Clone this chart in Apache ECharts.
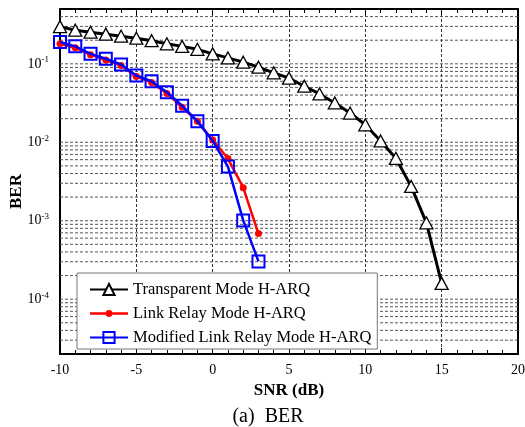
<!DOCTYPE html>
<html>
<head>
<meta charset="utf-8">
<script src="https://cdn.jsdelivr.net/npm/echarts@6/dist/echarts.min.js"></script>
<style>
html,body{margin:0;padding:0;background:#fff;}
#chart{width:525px;height:427px;}
</style>
</head>
<body>
<div id="chart"></div>
<script>
// ---- data ----
var snrTransparent = [-10,-9,-8,-7,-6,-5,-4,-3,-2,-1,0,1,2,3,4,5,6,7,8,9,10,11,12,13,14,15];
var berTransparent = [0.298,0.268,0.253,0.239,0.225,0.212,0.197,0.180,0.167,0.153,0.134,0.119,0.105,0.0907,0.0768,0.0656,0.0518,0.0413,0.0317,0.0236,0.0167,0.0104,0.00625,0.00274,0.00094,0.000159];
var snrRelay = [-10,-9,-8,-7,-6,-5,-4,-3,-2,-1,0,1,2,3];
var berLinkRelay = [0.180,0.160,0.131,0.112,0.095,0.069,0.058,0.042,0.028,0.0185,0.0107,0.0062,0.00264,0.000686];
var berModified = [0.190,0.167,0.134,0.116,0.098,0.0708,0.060,0.0434,0.0292,0.0186,0.0104,0.0049,0.00101,0.000303];
var seriesNames = ['Transparent Mode H-ARQ','Link Relay Mode H-ARQ','Modified Link Relay Mode H-ARQ'];
var xTicks = [-10,-5,0,5,10,15,20];
var yMin = 2e-5, yMax = 0.5;
// horizontal grid line values (decades and their multiples)
var yGridValues = [];
[1e-5,1e-4,1e-3,1e-2,1e-1].forEach(function(d){
  for (var k=1;k<=9;k++){ var v=k*d; if (v>yMin*1.0001 && v<yMax*0.9999) yGridValues.push(v); }
});

function pairs(xs, ys){ return xs.map(function(x,i){ return [x, ys[i]]; }); }

var xMin = xTicks[0], xMax = xTicks[xTicks.length-1];
// grid lines as broken polyline across the plot
var gridData = [];
yGridValues.forEach(function(v){
  gridData.push([xMin, v]); gridData.push([xMax, v]); gridData.push([xMax, '-']);
});

var serif = 'Liberation Serif';
var chart = echarts.init(document.getElementById('chart'), null, {renderer:'canvas'});

function yLabel(v){
  var e = Math.round(Math.log10(v));
  if (Math.abs(v - Math.pow(10,e)) / v > 1e-6) return '';
  return '10{sup|' + e + '}';
}

var option = {
  animation: false,
  backgroundColor: '#fff',
  title: {
    text: '(a)  BER',
    left: 263, top: 402, textAlign: 'center',
    textStyle: {fontFamily: serif, fontSize: 20, fontWeight: 'normal', color: '#000'}
  },
  grid: {left: 60, right: 7, top: 9, bottom: 73, outerBoundsMode: 'none', containLabel: false},
  legend: {
    orient: 'vertical',
    left: 77, top: 273,
    backgroundColor: '#fff',
    borderColor: '#777', borderWidth: 1,
    padding: [8, 6, 3, 12],
    itemWidth: 38, itemHeight: 14, itemGap: 7,
    textStyle: {fontFamily: serif, fontSize: 16.5, color: '#000'},
    data: [
      {name: seriesNames[0]},
      {name: seriesNames[1], icon: 'path://M0,6H38V8.6H0Z M15.6,7.3a3.4,3.4 0 1,1 6.8,0a3.4,3.4 0 1,1 -6.8,0Z'},
      {name: seriesNames[2]}
    ]
  },
  xAxis: [{
    type: 'value', min: xMin, max: xMax, interval: 5,
    name: 'SNR (dB)', nameLocation: 'middle', nameGap: 25,
    nameTextStyle: {fontFamily: serif, fontSize: 17, fontWeight: 'bold', color: '#000'},
    axisLine: {show: true, onZero: false, lineStyle: {color: '#000', width: 2}},
    axisTick: {show: true, inside: true, length: 6, lineStyle: {color: '#000', width: 1}},
    minorTick: {show: true, splitNumber: 5, length: 4, lineStyle: {color: '#000', width: 1}},
    axisLabel: {fontFamily: serif, fontSize: 14, color: '#000', margin: 9},
    splitLine: {show: true, lineStyle: {color: '#333', type: [3, 2], width: 1}}
  }, {
    type: 'value', position: 'top', min: xMin, max: xMax, interval: 5,
    axisLine: {show: true, onZero: false, lineStyle: {color: '#000', width: 2}},
    axisTick: {show: true, inside: true, length: 6, lineStyle: {color: '#000', width: 1}},
    minorTick: {show: true, splitNumber: 5, length: 4, lineStyle: {color: '#000', width: 1}},
    axisLabel: {show: false},
    splitLine: {show: false}
  }],
  yAxis: [{
    type: 'log', min: yMin, max: yMax, logBase: 10,
    name: 'BER', nameLocation: 'middle', nameGap: 35, nameRotate: 90, nameMoveOverlap: false,
    nameTextStyle: {fontFamily: serif, fontSize: 17, fontWeight: 'bold', color: '#000', padding: [0, 20, 0, 0]},
    axisLine: {show: true, onZero: false, lineStyle: {color: '#000', width: 2}},
    axisTick: {show: false},
    axisLabel: {
      fontFamily: serif, fontSize: 14, color: '#000', margin: 11,
      showMinLabel: false, showMaxLabel: false,
      formatter: yLabel,
      rich: {sup: {fontFamily: serif, fontSize: 9, color: '#000', verticalAlign: 'top', padding: [0,0,8,0]}}
    },
    splitLine: {show: false}
  }, {
    type: 'log', min: yMin, max: yMax, logBase: 10, position: 'right',
    axisLine: {show: true, onZero: false, lineStyle: {color: '#000', width: 2}},
    axisTick: {show: false},
    axisLabel: {show: false},
    splitLine: {show: false}
  }],
  series: [{
    name: 'grid', type: 'line', silent: true,
    data: gridData, connectNulls: false,
    symbol: 'none',
    lineStyle: {color: '#555', type: [3, 2], width: 1},
    z: 1
  }, {
    name: seriesNames[0], type: 'line',
    data: pairs(snrTransparent, berTransparent),
    color: '#000',
    lineStyle: {color: '#000', width: 3},
    symbol: 'triangle', symbolSize: [13, 12],
    itemStyle: {color: '#fff', borderColor: '#000', borderWidth: 1.3},
    z: 3
  }, {
    name: seriesNames[1], type: 'line',
    data: pairs(snrRelay, berLinkRelay),
    color: '#ff0000',
    lineStyle: {color: '#ff0000', width: 2.5},
    symbol: 'circle', symbolSize: 7,
    itemStyle: {color: '#ff0000'},
    z: 4
  }, {
    name: seriesNames[2], type: 'line',
    data: pairs(snrRelay, berModified),
    color: '#0000ff',
    lineStyle: {color: '#0000ff', width: 2.5},
    symbol: 'rect', symbolSize: 12,
    itemStyle: {color: 'rgba(0,0,0,0)', borderColor: '#0000ff', borderWidth: 2},
    z: 5
  }]
};
chart.setOption(option);
</script>
</body>
</html>
